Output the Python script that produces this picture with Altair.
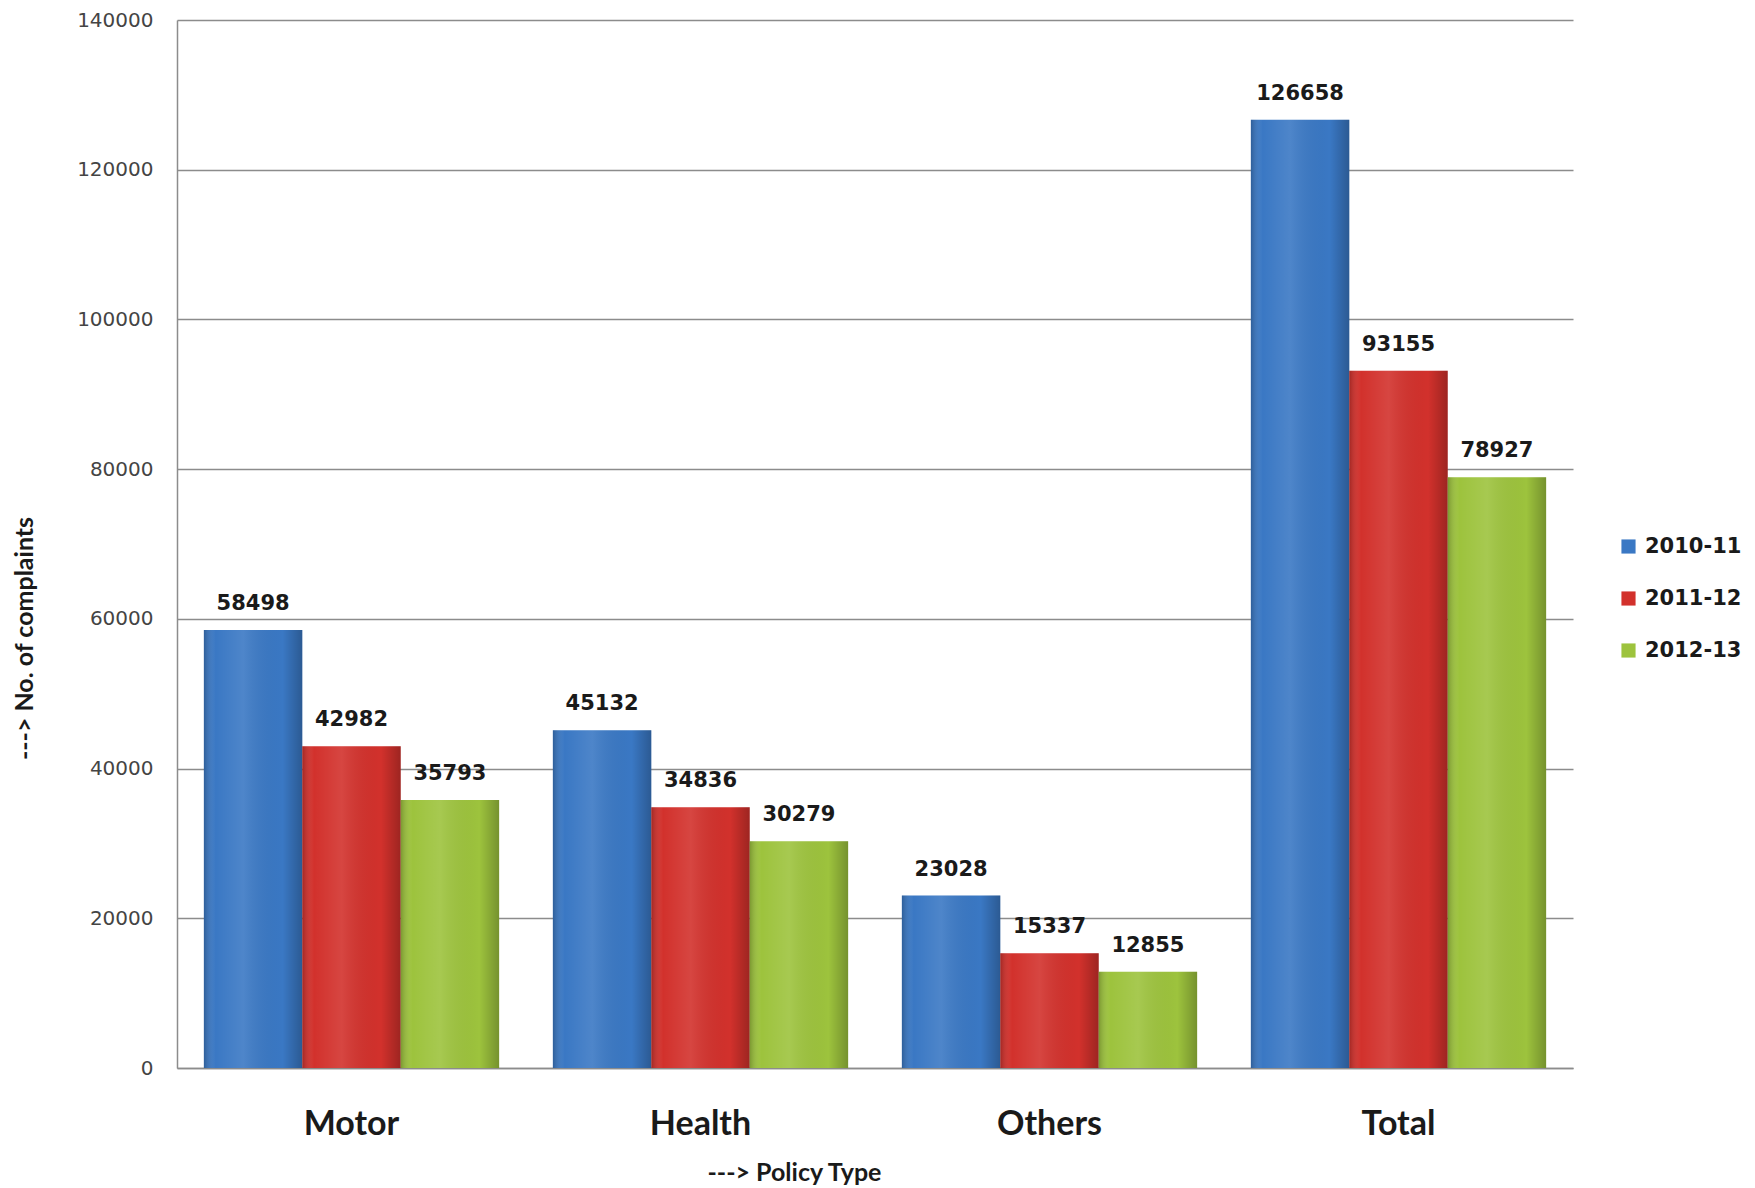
import altair as alt
import pandas as pd

categories = ["Motor", "Health", "Others", "Total"]
years = ["2010-11", "2011-12", "2012-13"]
v_2010_11 = [58498, 45132, 23028, 126658]
v_2011_12 = [42982, 34836, 15337, 93155]
v_2012_13 = [35793, 30279, 12855, 78927]
y_ticks = [0, 20000, 40000, 60000, 80000, 100000, 120000, 140000]
colors = ["#3a78c4", "#d2312c", "#9dc33d"]

rows = []
for yr, vals in zip(years, [v_2010_11, v_2011_12, v_2012_13]):
    for c, v in zip(categories, vals):
        rows.append({"Policy": c, "Year": yr, "Complaints": v})
df = pd.DataFrame(rows)

x_enc = alt.X(
    "Policy:N",
    sort=categories,
    scale=alt.Scale(paddingInner=0.154, paddingOuter=0.077),
    axis=alt.Axis(
        title="---> Policy Type",
        titleFont="Lato",
        titleFontSize=25,
        titleFontWeight="bold",
        titleColor="#1a1a1a",
        titleX=617,
        titleY=104,
        titleBaseline="middle",
        labelFont="Lato",
        labelFontSize=34,
        labelFontWeight="bold",
        labelColor="#1a1a1a",
        labelAngle=0,
        labelBaseline="middle",
        labelPadding=56,
        ticks=False,
        domainColor="#8c8c8c",
        domainWidth=1.5,
    ),
)
xoff = alt.XOffset("Year:N", sort=years, scale=alt.Scale(paddingInner=0, paddingOuter=0))
y_enc = alt.Y(
    "Complaints:Q",
    scale=alt.Scale(domain=[0, 140000], nice=False),
    axis=alt.Axis(
        values=y_ticks,
        format="d",
        title="---> No. of complaints",
        titleFont="Lato",
        titleFontSize=25,
        titleFontWeight="bold",
        titleColor="#1a1a1a",
        titleAngle=270,
        titleX=-153,
        titleY=618,
        titleAlign="center",
        titleBaseline="middle",
        labelFont="DejaVu Sans",
        labelFontSize=20,
        labelColor="#444444",
        labelPadding=24,
        ticks=False,
        grid=True,
        gridColor="#8c8c8c",
        gridWidth=1.5,
        domainColor="#8c8c8c",
        domainWidth=1.5,
    ),
)

base = alt.Chart(df).encode(x=x_enc, xOffset=xoff, y=y_enc)

bars = base.mark_bar(stroke=None).encode(
    color=alt.Color(
        "Year:N",
        sort=years,
        scale=alt.Scale(domain=years, range=colors),
        legend=alt.Legend(
            title=None,
            orient="none",
            legendX=1441,
            legendY=516,
            symbolType="square",
            symbolSize=200,
            symbolStrokeWidth=0,
            labelFont="DejaVu Sans",
            labelFontSize=21,
            labelFontWeight="bold",
            labelColor="#1a1a1a",
            labelOffset=6,
            rowPadding=30,
        ),
    )
)

shade = base.mark_bar(
    fill=alt.Gradient(
        gradient="linear",
        x1=0, x2=1, y1=0, y2=0,
        stops=[
            alt.GradientStop(color="rgba(0,0,0,0.22)", offset=0),
            alt.GradientStop(color="rgba(255,255,255,0.0)", offset=0.12),
            alt.GradientStop(color="rgba(255,255,255,0.10)", offset=0.4),
            alt.GradientStop(color="rgba(0,0,0,0.0)", offset=0.8),
            alt.GradientStop(color="rgba(0,0,0,0.25)", offset=1),
        ],
    )
)

labels = base.mark_text(
    baseline="bottom",
    dy=-16,
    font="DejaVu Sans",
    fontSize=21,
    fontWeight="bold",
    color="#1a1a1a",
).encode(text=alt.Text("Complaints:Q", format="d"))

chart = (
    alt.layer(bars, shade, labels)
    .properties(
        width=1396,
        height=1048,
        autosize=alt.AutoSizeParams(type="none"),
        padding={"left": 177, "top": 20, "right": 182, "bottom": 120},
        background="white",
    )
    .configure_view(stroke=None)
)

chart.save("out.html", embed_options={"renderer": "svg", "actions": False})
